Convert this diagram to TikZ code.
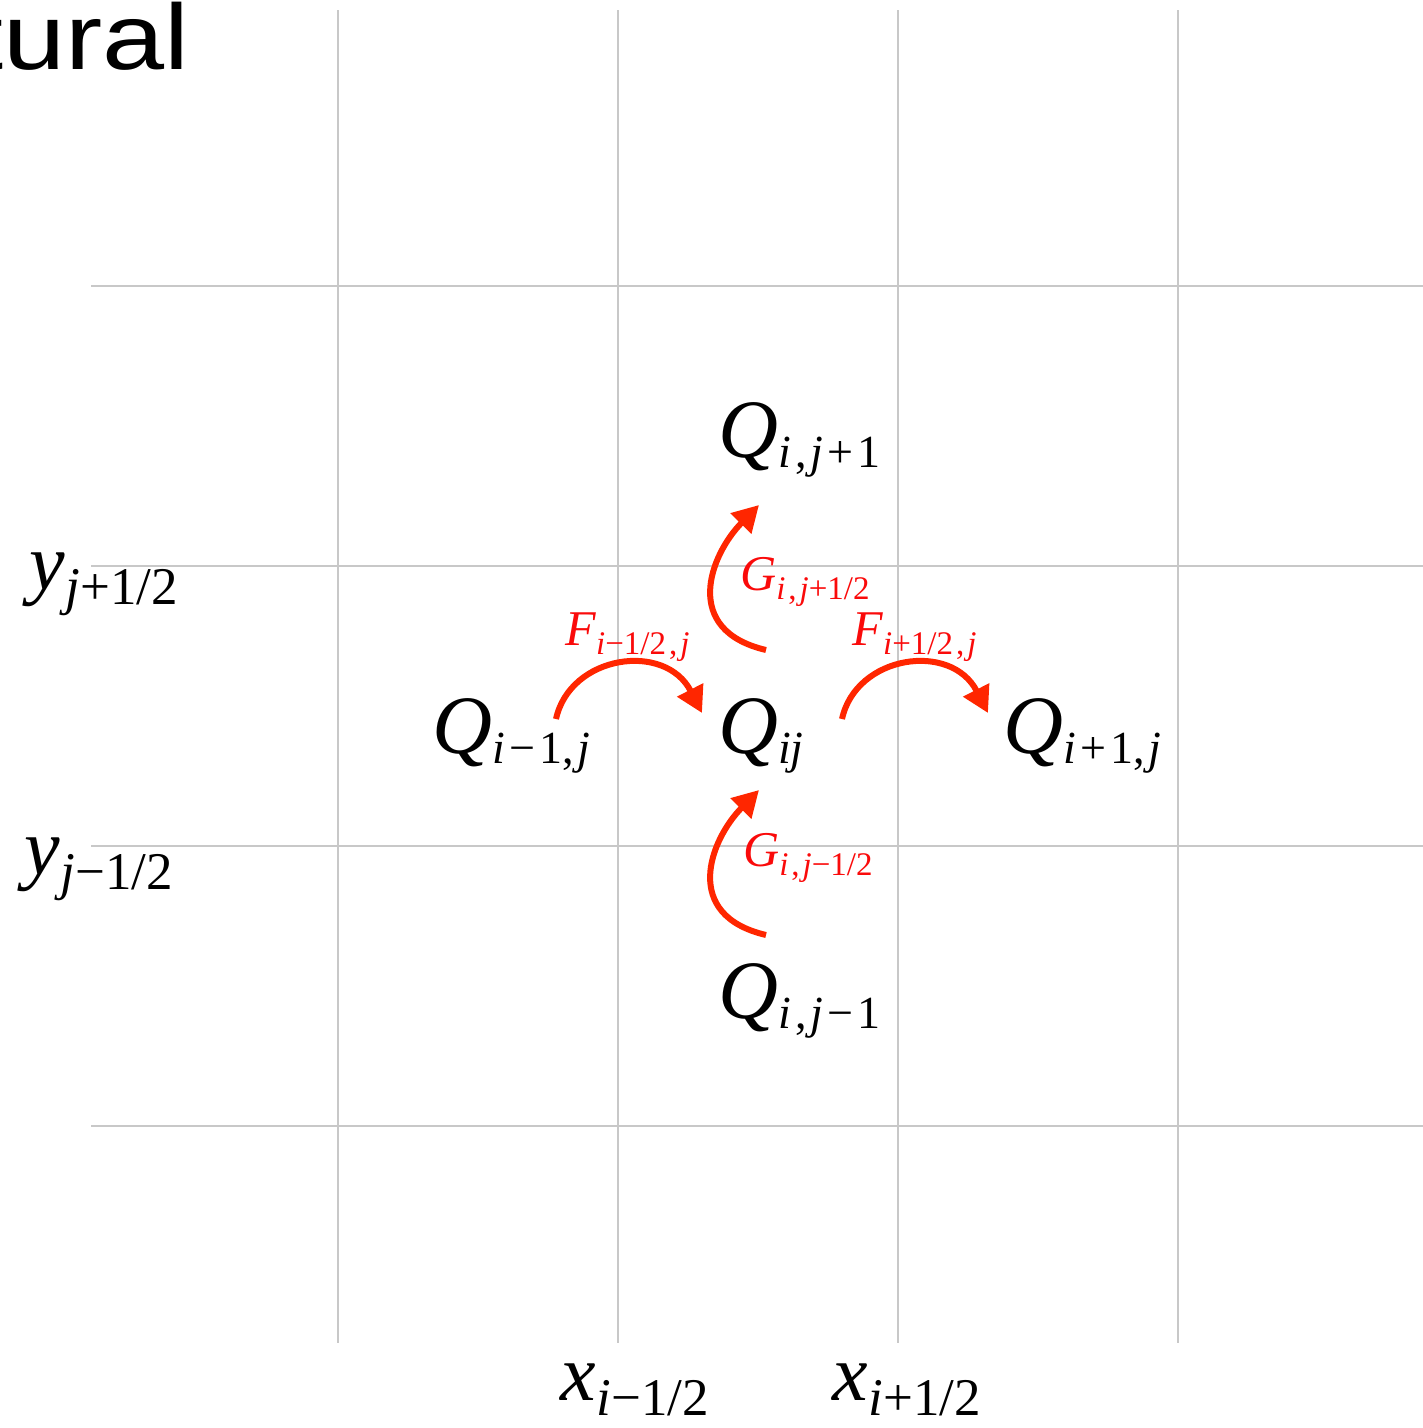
\documentclass[tikz,border=0pt]{standalone}
\usepackage{fontspec}
\setmainfont{Liberation Serif}
\newfontfamily\titlefont{Liberation Sans}
\usetikzlibrary{arrows.meta}
\definecolor{gridgray}{RGB}{200,200,200}
\definecolor{fluxred}{RGB}{255,38,0}
\definecolor{labred}{RGB}{250,10,10}
\newcommand\bigsz{\fontsize{83}{83}\selectfont}
\newcommand\bigsub{\fontsize{46}{46}\selectfont}
\newcommand\axsz{\fontsize{80}{80}\selectfont}
\newcommand\axsub{\fontsize{53}{53}\selectfont}
\newcommand\flsz{\fontsize{50}{50}\selectfont}
\newcommand\flsub{\fontsize{33}{33}\selectfont}
\newcommand\gapk{\kern0.09em}
\newcommand\Qlab[1]{{\bigsz\textit{Q}}\raisebox{-10pt}{\bigsub #1}}
\newcommand\Axlab[2]{{\axsz\textit{#1}}\kern0.1em\raisebox{-15pt}{\axsub #2}}
\newcommand\Fllab[2]{{\flsz\textit{#1}}\raisebox{-9pt}{\flsub #2}}
\begin{document}
\begin{tikzpicture}[x=1pt,y=-1pt,
  gridline/.style={draw=gridgray,line width=2.5pt},
  qnode/.style={inner sep=0pt,anchor=base west,text=black},
  axnode/.style={inner sep=0pt,anchor=base west,text=black},
  flnode/.style={inner sep=0pt,anchor=base west,text=labred},
  flux/.style={draw=fluxred,line width=6pt,-{Triangle[length=26pt,width=28pt]}}]
\useasboundingbox (0,0) rectangle (1423,1428);
% grid
\foreach \gx in {338,618,898,1178}{\draw[gridline] (\gx,10) -- (\gx,1343);}
\foreach \gy in {286,566,846,1126}{\draw[gridline] (91,\gy) -- (1423,\gy);}
% title fragment
\node[inner sep=0pt,anchor=base east] (title) at (190,69) {\scalebox{1.2}[1]{\titlefont\fontsize{93}{93}\selectfont Structural}};
% cell values
\node[qnode] (qc) at (718,753) {\Qlab{\textit{ij}}};
\node[qnode] (ql) at (432,753) {\Qlab{\textit{i}\gapk−\gapk1,\gapk\textit{j}}};
\node[qnode] (qr) at (1003,753) {\Qlab{\textit{i}\gapk+\gapk1,\gapk\textit{j}}};
\node[qnode] (qt) at (718,457) {\Qlab{\textit{i}\gapk,\gapk\textit{j}\gapk+\gapk1}};
\node[qnode] (qb) at (718,1018) {\Qlab{\textit{i}\gapk,\gapk\textit{j}\gapk−\gapk1}};
% axes labels
\node[axnode] (yt) at (29,589) {\Axlab{y}{\textit{j}+1/2}};
\node[axnode] (yb) at (24,874) {\Axlab{y}{\textit{j}−1/2}};
\node[axnode] (xl) at (560,1400) {\Axlab{x}{\textit{i}−1/2}};
\node[axnode] (xr) at (832,1400) {\Axlab{x}{\textit{i}+1/2}};
% flux labels
\node[flnode] (fl) at (565,645) {\Fllab{F}{\textit{i}−1/2\gapk,\gapk\textit{j}}};
\node[flnode] (fr) at (852,645) {\Fllab{F}{\textit{i}+1/2\gapk,\gapk\textit{j}}};
\node[flnode] (gt) at (740,590) {\Fllab{G}{\textit{i}\gapk,\gapk\textit{j}+1/2}};
\node[flnode] (gb) at (743,866) {\Fllab{G}{\textit{i}\gapk,\gapk\textit{j}−1/2}};
% arrow end points
\coordinate (fls) at (556,719);
\coordinate (fle) at (702,713);
\coordinate (frs) at (842,719);
\coordinate (fre) at (988,713);
\coordinate (gts) at (766,650);
\coordinate (gte) at (759,505);
\coordinate (gbs) at (766,935);
\coordinate (gbe) at (759,790);
% arrows
\draw[flux] (fls) .. controls +(14,-64) and +(-37,-72) .. (fle);
\draw[flux] (frs) .. controls +(14,-64) and +(-37,-72) .. (fre);
\draw[flux] (gts) .. controls +(-85,-20) and +(-49,50) .. (gte);
\draw[flux] (gbs) .. controls +(-85,-20) and +(-49,50) .. (gbe);
\end{tikzpicture}
\end{document}
